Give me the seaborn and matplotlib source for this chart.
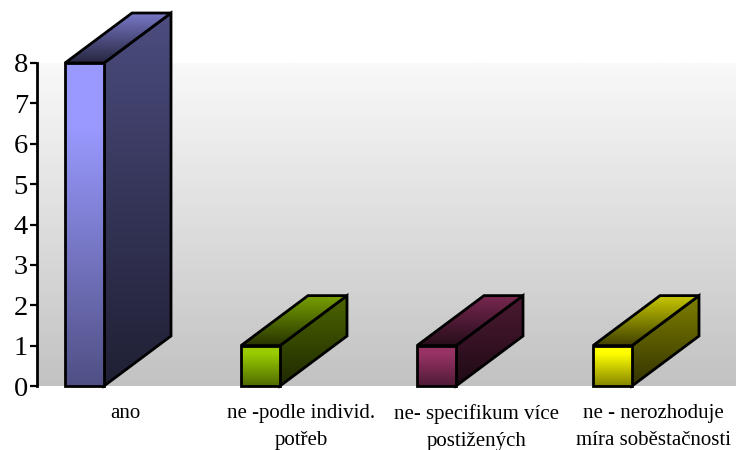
import numpy as np
import pandas as pd
import seaborn as sns
import matplotlib
matplotlib.use("Agg")
import matplotlib.pyplot as plt
import matplotlib.patches as patches
from matplotlib.colors import LinearSegmentedColormap, to_rgb

categories = ["ano", "ne -podle individ.\npotřeb", "ne- specifikum více\npostižených",
              "ne - nerozhoduje\nmíra soběstačnosti"]
values = [8, 1, 1, 1]
bar_colors = ["#9999ff", "#99cc00", "#993366", "#ffff00"]

W, H = 736, 450
LEFT, RIGHT, TOP, BOTTOM = 37, 736, 63, 386
BAND = 176.0
DEPTH_X, DEPTH_Y = 67.0, 50.0  # pixels
BAR_W = 39.0


def shade(color, k):
    return tuple(c * k for c in to_rgb(color))


def gradient(ax, fig, poly, top, bottom, zorder, hold=1.0):
    # vertical gradient clipped to a polygon, can run above the axes
    xs, ys = poly[:, 0], poly[:, 1]
    cmap = LinearSegmentedColormap.from_list("g", [(0, bottom), (hold, top), (1, top)])
    im = ax.imshow(np.linspace(1, 0, 256).reshape(-1, 1), cmap=cmap, vmin=0, vmax=1,
                   extent=(xs.min(), xs.max(), ys.min(), ys.max()),
                   aspect="auto", zorder=zorder, interpolation="bilinear")
    clip = patches.Polygon(poly, closed=True, transform=ax.transData, facecolor="none", edgecolor="none")
    im.set_clip_path(clip)
    im.set_clip_box(fig.bbox)
    ax.add_patch(patches.Polygon(poly, closed=True, facecolor="none", edgecolor="black",
                                 linewidth=2.0, joinstyle="miter", clip_on=False, zorder=zorder + 0.1))


df = pd.DataFrame({"kategorie": categories, "pocet": values})

sns.set_theme(style="white")
plt.rcParams["font.family"] = ["Liberation Serif", "DejaVu Serif"]

fig = plt.figure(figsize=(W / 100, H / 100), dpi=100, facecolor="white")
ax = fig.add_axes([LEFT / W, 1 - BOTTOM / H, (RIGHT - LEFT) / W, (BOTTOM - TOP) / H])

sns.barplot(data=df, x="kategorie", y="pocet", hue="kategorie", palette=bar_colors,
            legend=False, width=BAR_W / BAND, ax=ax)

xlim = (-0.5, -0.5 + (RIGHT - LEFT) / BAND)
ylim = (0, 8)
ax.set_xlim(xlim)
ax.set_ylim(ylim)

dx = DEPTH_X / BAND
dy = DEPTH_Y / (BOTTOM - TOP) * ylim[1]

# background fade
bg = ax.imshow(np.linspace(0, 1, 256).reshape(-1, 1),
               cmap=LinearSegmentedColormap.from_list("bg", ["#f9f9f9", "#c2c2c2"]),
               extent=(xlim[0], xlim[1], ylim[0], ylim[1]), aspect="auto", zorder=0)

bars = sorted(ax.patches, key=lambda p: p.get_x())
for bar, color in zip(bars, bar_colors):
    v = bar.get_height()
    # front face sits left of the band centre, the depth takes up the rest
    x0 = bar.get_x() + bar.get_width() / 2 - (125 - 65 - BAR_W / 2) / BAND - bar.get_width() / 2
    x1 = x0 + bar.get_width()
    bar.set_visible(False)
    front = np.array([[x0, 0], [x1, 0], [x1, v], [x0, v]])
    side = np.array([[x1, 0], [x1 + dx, dy], [x1 + dx, v + dy], [x1, v]])
    roof = np.array([[x0, v], [x1, v], [x1 + dx, v + dy], [x0 + dx, v + dy]])
    gradient(ax, fig, side, shade(color, 0.5), shade(color, 0.2), 3)
    gradient(ax, fig, roof, shade(color, 0.78), shade(color, 0.25), 3.2)
    gradient(ax, fig, front, shade(color, 1.0), shade(color, 0.52), 3.4, hold=0.8)

ax.set_xlim(xlim)
ax.set_ylim(ylim)
ax.set_xlabel("")
ax.set_ylabel("")
ax.set_yticks(range(0, 9))
ax.tick_params(axis="y", left=True, length=5, width=1.6, color="black", labelsize=20.5,
               labelcolor="black", pad=1.5)
ax.tick_params(axis="x", bottom=False, labelsize=15, labelcolor="black", pad=7)
for lab in ax.get_xticklabels():
    lab.set_linespacing(1.6)
sns.despine(ax=ax, top=True, right=True, bottom=True)
ax.spines["left"].set_color("black")
ax.spines["left"].set_linewidth(2)
ax.spines["left"].set_zorder(5)
ax.grid(False)

fig.savefig("out.png", dpi=100)
